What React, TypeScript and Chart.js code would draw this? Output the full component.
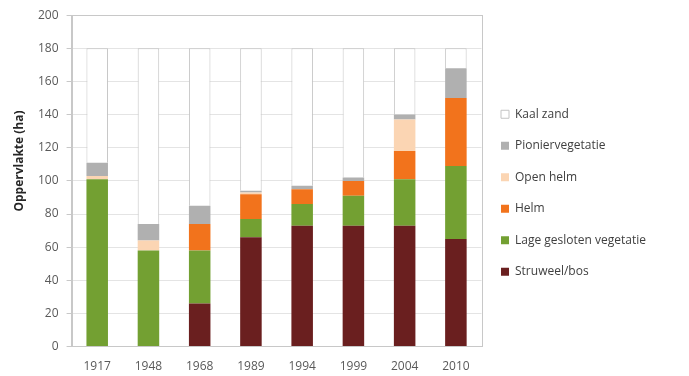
import React, { useEffect, useRef } from "react";
import { Chart, registerables } from "chart.js";

Chart.register(...registerables);

const categories = ["1917", "1948", "1968", "1989", "1994", "1999", "2004", "2010"];
const struweelBos = [0, 0, 26, 66, 73, 73, 73, 65];
const lageGeslotenVegetatie = [101, 58, 32, 11, 13, 18, 28, 44];
const helm = [0, 0, 16, 15, 9, 9, 17, 41];
const openHelm = [2, 6, 0, 1, 0, 0, 19, 0];
const pioniervegetatie = [8, 10, 11, 1, 2, 2, 3, 18];
const kaalZand = [69, 106, 95, 86, 83, 78, 40, 12];
const yTicks = [0, 20, 40, 60, 80, 100, 120, 140, 160, 180, 200];
const yTitle = "Oppervlakte (ha)";

const FONT = "'Open Sans', 'Liberation Sans', sans-serif";

const framePlugin = {
  id: "frame",
  beforeDatasetsDraw(chart: any) {
    const { ctx, chartArea } = chart;
    ctx.save();
    ctx.strokeStyle = "#c8c8c8";
    ctx.lineWidth = 1;
    ctx.strokeRect(
      Math.round(chartArea.left) + 0.5,
      Math.round(chartArea.top) + 0.5,
      Math.round(chartArea.right - chartArea.left),
      Math.round(chartArea.bottom - chartArea.top)
    );
    ctx.restore();
  },
};

const yTitlePlugin = {
  id: "yTitle",
  afterDraw(chart: any) {
    const { ctx, chartArea } = chart;
    const cy = chartArea.top + (chartArea.bottom - chartArea.top) * 0.44;
    ctx.save();
    ctx.translate(20, cy);
    ctx.rotate(-Math.PI / 2);
    ctx.font = `bold 12px ${FONT}`;
    ctx.fillStyle = "#262626";
    ctx.textAlign = "center";
    ctx.textBaseline = "middle";
    ctx.fillText(yTitle, 0, 0);
    ctx.restore();
  },
};

export default function App() {
  const ref = useRef<HTMLCanvasElement>(null);

  useEffect(() => {
    if (!ref.current) return;
    const mk = (label: string, data: number[], bg: string, border?: string) => ({
      label,
      data,
      backgroundColor: bg,
      borderColor: border ?? bg,
      borderWidth: border ? 1 : 0,
      barPercentage: 0.42,
      categoryPercentage: 1,
    });
    const chart = new Chart(ref.current, {
      type: "bar",
      data: {
        labels: categories,
        datasets: [
          mk("Struweel/bos", struweelBos, "#6a1f1f"),
          mk("Lage gesloten vegetatie", lageGeslotenVegetatie, "#73a032"),
          mk("Helm", helm, "#f2731c"),
          mk("Open helm", openHelm, "#fbd5b3"),
          mk("Pioniervegetatie", pioniervegetatie, "#b0b0b0"),
          mk("Kaal zand", kaalZand, "#ffffff", "#c4c4c4"),
        ],
      },
      options: {
        animation: false,
        responsive: false,
        maintainAspectRatio: false,
        devicePixelRatio: 1,
        layout: { padding: { top: 7, right: 33, bottom: -3, left: 30 } },
        plugins: {
          tooltip: { enabled: false },
          legend: {
            position: "right",
            reverse: true,
            maxWidth: 260,
            labels: {
              boxWidth: 8,
              boxHeight: 8,
              padding: 19.5,
              color: "#404040",
              font: { family: FONT, size: 12 },
            },
          },
        },
        scales: {
          x: {
            stacked: true,
            grid: { display: false },
            border: { display: true, color: "#c8c8c8" },
            ticks: { color: "#595959", font: { family: FONT, size: 12 }, padding: 5 },
          },
          y: {
            stacked: true,
            min: 0,
            max: 200,
            afterBuildTicks: (axis: any) => {
              axis.ticks = yTicks.map((v) => ({ value: v }));
            },
            grid: { color: "#e4e4e4", tickLength: 5, tickColor: "#c8c8c8" },
            border: { display: true, color: "#c8c8c8" },
            ticks: { color: "#595959", font: { family: FONT, size: 12 }, padding: 8 },
          },
        },
      },
      plugins: [framePlugin, yTitlePlugin],
    });
    let alive = true;
    const fonts: any = (document as any).fonts;
    if (fonts && fonts.load) {
      Promise.all([
        fonts.load("12px 'Open Sans'"),
        fonts.load("bold 12px 'Open Sans'"),
      ]).then(() => {
        if (alive) chart.update();
      });
    }
    return () => {
      alive = false;
      chart.destroy();
    };
  }, []);

  return (
    <div style={{ position: "fixed", left: 0, top: 0, width: 689, height: 376, background: "#fff" }}>
      <canvas ref={ref} width={689} height={376} style={{ display: "block", width: 689, height: 376 }} />
    </div>
  );
}
